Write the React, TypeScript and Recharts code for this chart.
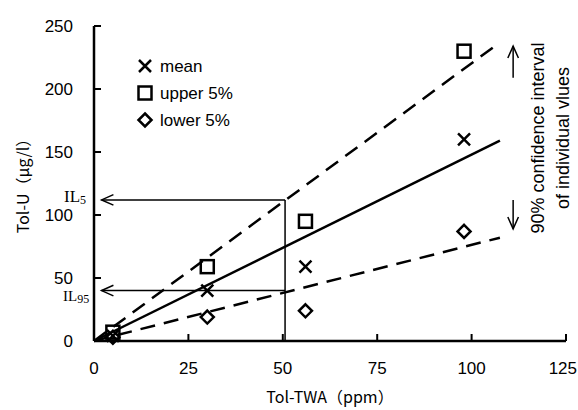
import { ComposedChart, Customized, Line, ReferenceLine, Scatter, XAxis, YAxis } from "recharts"

// axis ticks
const xTicks = [0, 25, 50, 75, 100, 125]
const yTicks = [0, 50, 100, 150, 200, 250]

// measured points (x = Tol-TWA ppm, y = Tol-U)
const meanPoints = [
  { x: 5, y: 4 },
  { x: 30, y: 40 },
  { x: 56, y: 59 },
  { x: 98, y: 160 },
]
const upperPoints = [
  { x: 5, y: 7 },
  { x: 30, y: 59 },
  { x: 56, y: 95 },
  { x: 98, y: 230 },
]
const lowerPoints = [
  { x: 5, y: 3 },
  { x: 30, y: 19 },
  { x: 56, y: 24 },
  { x: 98, y: 87 },
]

// regression line and 90% band
const meanFit = [
  { x: 0, y: 0 },
  { x: 107.5, y: 159 },
]
const upperFit = [
  { x: 0, y: 0 },
  { x: 107.5, y: 237 },
]
const lowerFit = [
  { x: 0, y: 0 },
  { x: 107.5, y: 82 },
]

// IL5 / IL95 read-off at 50 ppm
const twaLimit = 50.6
const il5 = 112
const il95 = 40
const bandArrowX = 111
const upArrow = [209, 234]
const downArrow = [112, 89]

const legendItems = [
  { name: "mean", marker: "cross" },
  { name: "upper 5%", marker: "square" },
  { name: "lower 5%", marker: "diamond" },
]

const PLOT_LEFT = 94
const PLOT_BOTTOM = 341
const SANS = "'Liberation Sans', Arial, sans-serif"
const JP = "'Noto Sans CJK JP', sans-serif"

function Marker({ kind, cx, cy }: { kind: string; cx: number; cy: number }) {
  if (kind === "cross") {
    const h = 6
    return (
      <path
        d={`M${cx - h},${cy - h}L${cx + h},${cy + h}M${cx - h},${cy + h}L${cx + h},${cy - h}`}
        stroke="#000"
        strokeWidth={2.5}
        fill="none"
      />
    )
  }
  if (kind === "square") {
    return <rect x={cx - 6.5} y={cy - 6.5} width={13} height={13} stroke="#000" strokeWidth={2.5} fill="none" />
  }
  const h = 6.5
  return (
    <path
      d={`M${cx},${cy - h}L${cx + h},${cy}L${cx},${cy + h}L${cx - h},${cy}Z`}
      stroke="#000"
      strokeWidth={2.5}
      fill="none"
    />
  )
}

function Arrow(props: any) {
  const { x1, y1, x2, y2 } = props
  const ang = Math.atan2(y2 - y1, x2 - x1)
  const len = 13
  const spread = 0.42
  const ax = x2 - len * Math.cos(ang - spread)
  const ay = y2 - len * Math.sin(ang - spread)
  const bx = x2 - len * Math.cos(ang + spread)
  const by = y2 - len * Math.sin(ang + spread)
  return (
    <g>
      <line x1={x1} y1={y1} x2={x2} y2={y2} stroke="#000" strokeWidth={1.5} />
      <polyline points={`${ax},${ay} ${x2},${y2} ${bx},${by}`} stroke="#000" strokeWidth={1.5} fill="none" />
    </g>
  )
}

function XTick({ x, payload }: any) {
  // last label sits against the right edge, keep it inside
  const last = payload.value === xTicks[xTicks.length - 1]
  return (
    <g>
      <line x1={x} x2={x} y1={PLOT_BOTTOM} y2={PLOT_BOTTOM - 7} stroke="#000" strokeWidth={2} />
      <text
        x={last ? x + 11 : x}
        y={PLOT_BOTTOM + 33}
        textAnchor={last ? "end" : "middle"}
        fontFamily={SANS}
        fontSize={17}
        fill="#000"
      >
        {payload.value}
      </text>
    </g>
  )
}

function YTick({ y, payload }: any) {
  return (
    <g>
      <line x1={PLOT_LEFT} x2={PLOT_LEFT + 7} y1={y} y2={y} stroke="#000" strokeWidth={2} />
      <text x={73} y={y + 6} textAnchor="end" fontFamily={SANS} fontSize={17} fill="#000">
        {payload.value}
      </text>
    </g>
  )
}

function Annotations() {
  return (
    <g>
      {legendItems.map((item, i) => (
        <g key={item.name}>
          <Marker kind={item.marker} cx={145} cy={66 + i * 27} />
          <text x={160} y={72 + i * 27} fontFamily={SANS} fontSize={17} fill="#000">
            {item.name}
          </text>
        </g>
      ))}
      <text x={64} y={202} fontFamily="'Liberation Serif', serif" fontSize={17} fill="#000">
        IL<tspan fontSize={12} dy={2}>5</tspan>
      </text>
      <text x={63} y={301} fontFamily="'Liberation Serif', serif" fontSize={15} fill="#000">
        IL<tspan fontSize={12} dy={2}>95</tspan>
      </text>
      <text
        transform="translate(544,138) rotate(-90)"
        textAnchor="middle"
        fontFamily={SANS}
        fontSize={18}
        fill="#000"
      >
        90% confidence interval
      </text>
      <text
        transform="translate(569,138) rotate(-90)"
        textAnchor="middle"
        fontFamily={SANS}
        fontSize={18}
        fill="#000"
      >
        of individual vlues
      </text>
      <text
        transform="translate(23,182) rotate(-90)"
        textAnchor="middle"
        dy="0.35em"
        fontFamily={JP}
        fontSize={16}
        fill="#000"
      >
        Tol-U（μg/l）
      </text>
      <text x={330} y={403} textAnchor="middle" fontFamily={JP} fontSize={16} fill="#000">
        Tol-TWA（ppm）
      </text>
    </g>
  )
}

export default function App() {
  return (
    <div style={{ position: "absolute", left: 0, top: 0, background: "#fff" }}>
      <ComposedChart width={578} height={410} margin={{ top: 26, right: 12, left: 34, bottom: 39 }}>
        <XAxis
          type="number"
          dataKey="x"
          domain={[0, 125]}
          ticks={xTicks}
          interval={0}
          height={30}
          axisLine={{ stroke: "#000", strokeWidth: 2.5 }}
          tickLine={false}
          tick={<XTick />}
        />
        <YAxis
          type="number"
          dataKey="y"
          domain={[0, 250]}
          ticks={yTicks}
          interval={0}
          width={60}
          axisLine={{ stroke: "#000", strokeWidth: 2.5 }}
          tickLine={false}
          tick={<YTick />}
        />
        <ReferenceLine
          segment={[
            { x: twaLimit, y: 0 },
            { x: twaLimit, y: il5 },
          ]}
          stroke="#000"
          strokeWidth={1.5}
        />
        <ReferenceLine
          segment={[
            { x: twaLimit, y: il5 },
            { x: 2, y: il5 },
          ]}
          shape={Arrow}
        />
        <ReferenceLine
          segment={[
            { x: twaLimit, y: il95 },
            { x: 2, y: il95 },
          ]}
          shape={Arrow}
        />
        <ReferenceLine
          segment={[
            { x: bandArrowX, y: upArrow[0] },
            { x: bandArrowX, y: upArrow[1] },
          ]}
          shape={Arrow}
        />
        <ReferenceLine
          segment={[
            { x: bandArrowX, y: downArrow[0] },
            { x: bandArrowX, y: downArrow[1] },
          ]}
          shape={Arrow}
        />
        <Line data={meanFit} dataKey="y" stroke="#000" strokeWidth={2.5} dot={false} isAnimationActive={false} />
        <Line
          data={upperFit}
          dataKey="y"
          stroke="#000"
          strokeWidth={2.5}
          strokeDasharray="15 9"
          dot={false}
          isAnimationActive={false}
        />
        <Line
          data={lowerFit}
          dataKey="y"
          stroke="#000"
          strokeWidth={2.5}
          strokeDasharray="15 9"
          dot={false}
          isAnimationActive={false}
        />
        <Scatter data={meanPoints} isAnimationActive={false} shape={(p: any) => <Marker kind="cross" cx={p.cx} cy={p.cy} />} />
        <Scatter data={upperPoints} isAnimationActive={false} shape={(p: any) => <Marker kind="square" cx={p.cx} cy={p.cy} />} />
        <Scatter data={lowerPoints} isAnimationActive={false} shape={(p: any) => <Marker kind="diamond" cx={p.cx} cy={p.cy} />} />
        <Customized component={<Annotations />} />
      </ComposedChart>
    </div>
  )
}
